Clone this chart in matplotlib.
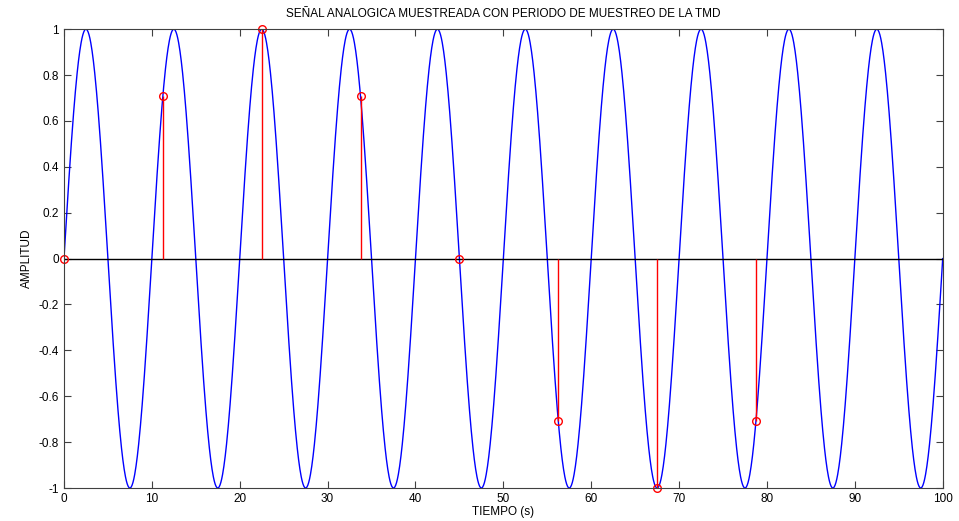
import numpy as np
import matplotlib.pyplot as plt

plt.rcParams['font.family'] = ['Liberation Sans', 'DejaVu Sans']

# señal analogica: seno de amplitud 1 y frecuencia 0.1 Hz
amplitud = 1.0
frecuencia = 0.1
t_inicio = 0
t_fin = 100

# muestras tomadas con el periodo de la TMD
t_muestras = [0, 11.25, 22.5, 33.75, 45, 56.25, 67.5, 78.75]
x_muestras = [0, 0.707, 1.0, 0.707, 0, -0.707, -1.0, -0.707]

t = np.linspace(t_inicio, t_fin, 2001)
x = amplitud * np.sin(2 * np.pi * frecuencia * t)

fig = plt.figure(figsize=(9.59, 5.21), dpi=100)
ax = fig.add_axes([0.0667, 0.0633, 0.9163, 0.8807])

ax.plot(t, x, color='#0000ff', lw=1)
ax.axhline(0, color='black', lw=1)
ax.vlines(t_muestras, 0, x_muestras, color='red', lw=1)
ax.plot(t_muestras, x_muestras, 'o', mfc='none', mec='red', ms=5.5, mew=1, clip_on=False)

ax.set_xlim(0, 100)
ax.set_ylim(-1, 1)
ax.set_xticks(np.arange(0, 101, 10))
ax.set_yticks(np.arange(-1, 1.01, 0.2))
ax.set_yticklabels(['-1', '-0.8', '-0.6', '-0.4', '-0.2', '0', '0.2', '0.4', '0.6', '0.8', '1'])
ax.tick_params(direction='in', top=True, right=True, labelsize=8.5, length=5, color='#404040')
for s in ax.spines.values():
    s.set_color('#404040')

ax.set_xlabel('TIEMPO (s)', fontsize=8.5, labelpad=1)
ax.set_ylabel('AMPLITUD', fontsize=8.5, labelpad=4)
ax.set_title('SEÑAL ANALOGICA MUESTREADA CON PERIODO DE MUESTREO DE LA TMD', fontsize=8.5, pad=9)

fig.savefig('out.png', dpi=100)
